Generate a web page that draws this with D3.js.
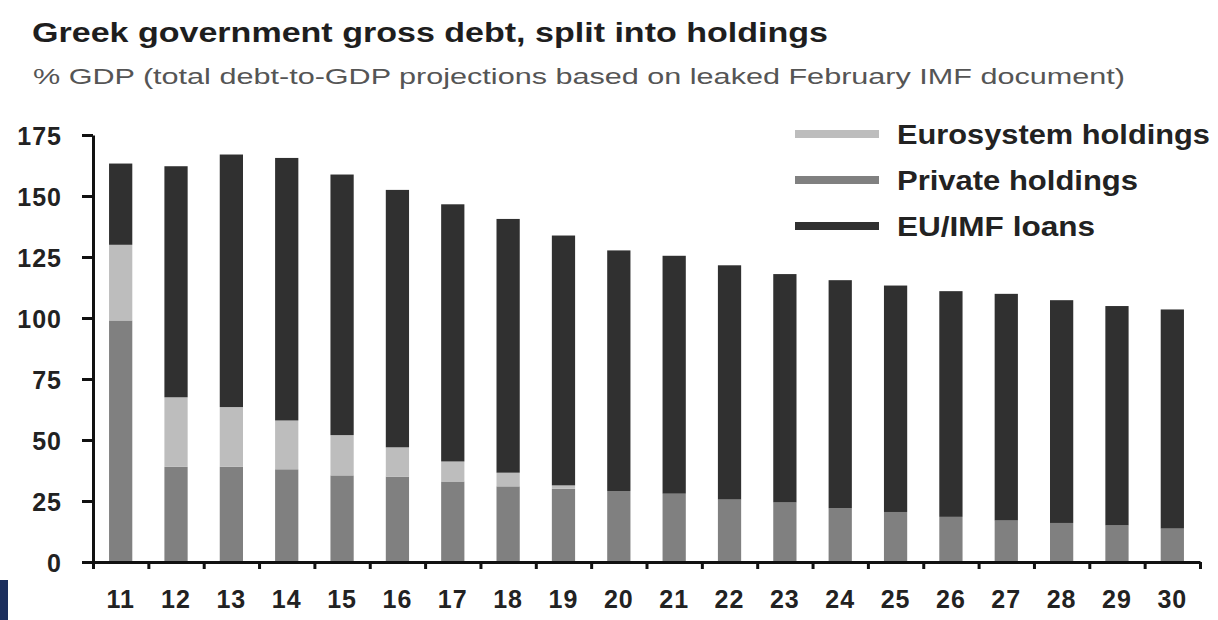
<!DOCTYPE html>
<meta charset="UTF-8">
<style>
body { margin: 0; background: #fff; }
svg { display: block; font-family: "Liberation Sans", Arial, sans-serif; }
.axis path, .axis line { stroke: #111; stroke-width: 3px; }
.axis text { fill: #222; font-weight: bold; font-size: 25px; letter-spacing: 1px; }
</style>
<svg width="1218" height="620"></svg>
<script src="https://d3js.org/d3.v7.min.js"></script>
<script>
var years = ["11","12","13","14","15","16","17","18","19","20","21","22","23","24","25","26","27","28","29","30"]
var privateHold = [99, 39, 39, 38, 35.5, 35, 33, 31, 30, 29.1, 28, 25.6, 24.4, 22, 20.5, 18.5, 17, 16, 15, 13.7]
var euroHold = [31, 28.5, 24.5, 20, 16.5, 12, 8.2, 5.6, 1.4, 0, 0, 0, 0, 0, 0, 0, 0, 0, 0, 0]
var euImfLoans = [33.3, 94.7, 103.5, 107.6, 106.8, 105.5, 105.4, 104, 102.4, 98.6, 97.5, 96, 93.6, 93.5, 92.8, 92.5, 92.9, 91.3, 89.9, 89.8]
var yTicks = [0, 25, 50, 75, 100, 125, 150, 175]

var seriesKeys = ["private", "euro", "euimf"]
var seriesNames = {euro: "Eurosystem holdings", private: "Private holdings", euimf: "EU/IMF loans"}
var colors = {private: "#808080", euro: "#bdbdbd", euimf: "#303030"}

function drawChart() {
    var rows = years.map((yr, i) => ({year: yr, private: privateHold[i], euro: euroHold[i], euimf: euImfLoans[i]}))
    var stacked = d3.stack().keys(seriesKeys)(rows)

    var svg = d3.select("svg")
    var plotLeft = 93, plotRight = 1200, plotBottom = 562, plotTop = 135

    var x = d3.scaleBand().domain(years).range([plotLeft, plotRight]).paddingInner(0.58).paddingOuter(0.29)
    var xEdge = d3.scaleLinear().domain([0, years.length]).range([plotLeft, plotRight])
    var y = d3.scaleLinear().domain([0, 175]).range([plotBottom, plotTop])

    // title
    svg.append("text").attr("x", 32).attr("y", 42)
        .attr("textLength", 796).attr("lengthAdjust", "spacingAndGlyphs")
        .style("font-size", "28px").style("font-weight", "bold").style("fill", "#1e1e1e")
        .text("Greek government gross debt, split into holdings")
    svg.append("text").attr("x", 33).attr("y", 84)
        .attr("textLength", 1092).attr("lengthAdjust", "spacingAndGlyphs")
        .style("font-size", "22px").style("fill", "#555")
        .text("% GDP (total debt-to-GDP projections based on leaked February IMF document)")

    // bars
    svg.append("g").selectAll("g")
        .data(stacked)
        .enter().append("g")
        .attr("fill", d => colors[d.key])
        .selectAll("rect")
        .data(d => d)
        .enter().append("rect")
        .attr("x", d => x(d.data.year))
        .attr("width", x.bandwidth())
        .attr("y", d => y(d[1]))
        .attr("height", d => y(d[0]) - y(d[1]))

    // y axis
    var yAxis = svg.append("g").attr("class", "axis")
        .attr("transform", "translate(" + plotLeft + ",0)")
        .call(d3.axisLeft(y).tickValues(yTicks).tickSize(11).tickSizeOuter(0).tickPadding(20))
    yAxis.selectAll("text").attr("dy", "0.36em")

    // x axis: boundary ticks + labels
    svg.append("g").attr("class", "axis")
        .attr("transform", "translate(0," + plotBottom + ")")
        .call(d3.axisBottom(xEdge).tickValues(d3.range(years.length + 1)).tickFormat("").tickSize(7).tickSizeOuter(0))
    svg.append("g").attr("class", "axis")
        .attr("transform", "translate(0," + plotBottom + ")")
        .call(d3.axisBottom(x).tickSize(0).tickPadding(28))
        .call(g => g.select(".domain").remove())

    // legend
    var legendOrder = ["euro", "private", "euimf"]
    var legendY = d3.scalePoint().domain(legendOrder).range([134, 226])
    var lg = svg.append("g").selectAll("g").data(legendOrder).enter().append("g")
        .attr("transform", d => "translate(795," + legendY(d) + ")")
    lg.append("rect").attr("x", 0).attr("y", -4).attr("width", 84).attr("height", 8)
        .attr("fill", d => colors[d])
    lg.append("text").attr("x", 102).attr("y", 10)
        .attr("textLength", d => ({euro: 313, private: 241, euimf: 198})[d])
        .attr("lengthAdjust", "spacingAndGlyphs")
        .style("font-size", "27px").style("font-weight", "bold").style("fill", "#222")
        .text(d => seriesNames[d])

    // corner block
    svg.append("rect").attr("x", 0).attr("y", 580).attr("width", 8).attr("height", 40).attr("fill", "#1c2f5e")
}

drawChart()
</script>
